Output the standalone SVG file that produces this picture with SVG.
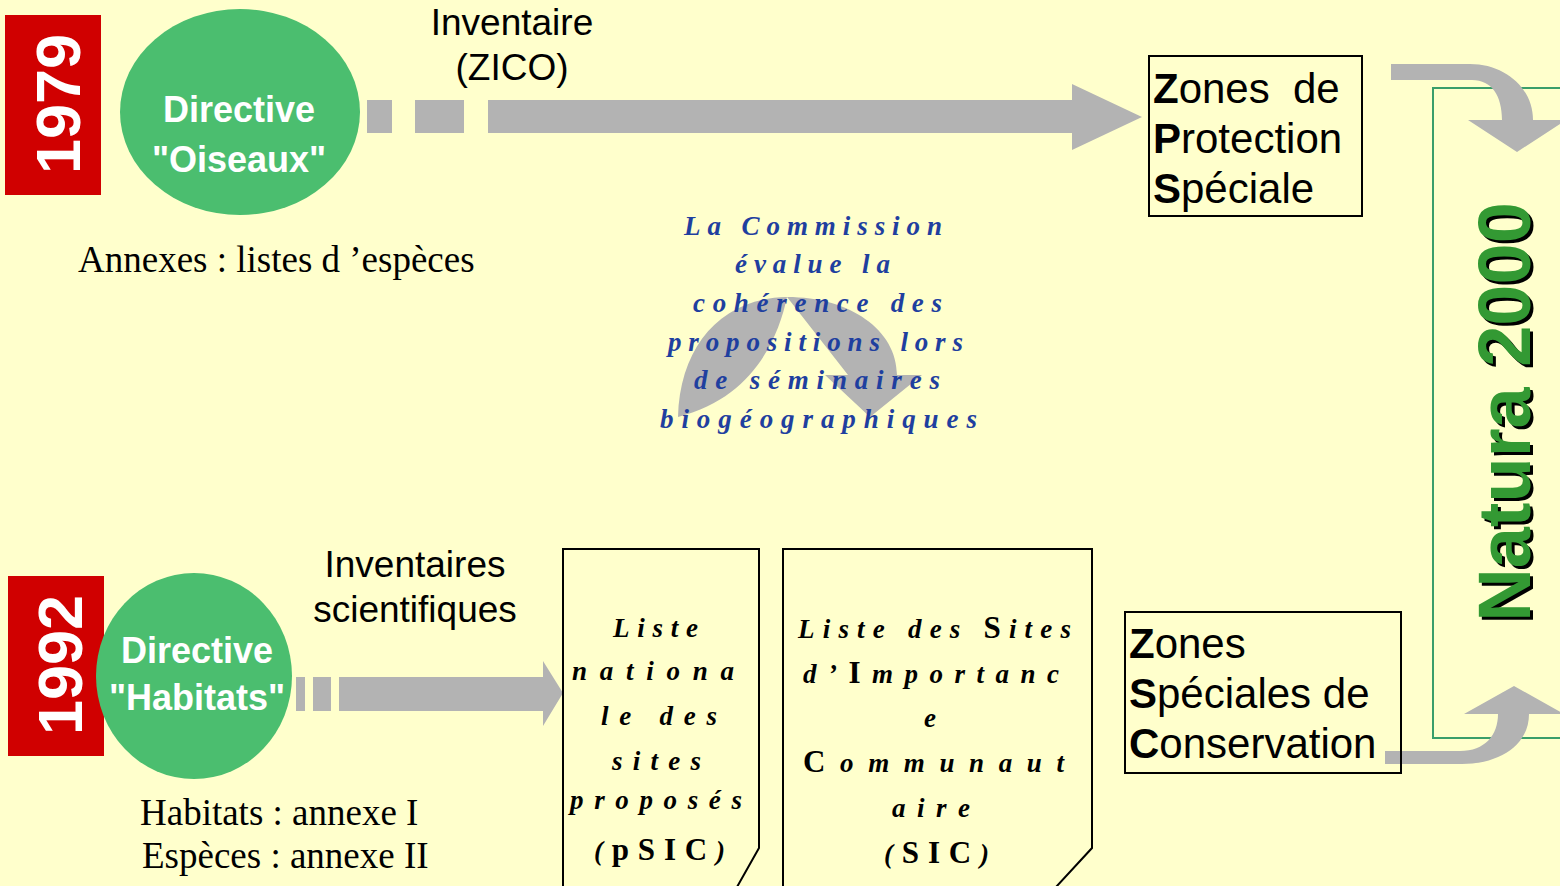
<svg xmlns="http://www.w3.org/2000/svg" width="1560" height="886" viewBox="0 0 1560 886">
<style>
.sans{font-family:"Liberation Sans",Arial,sans-serif}
.year{font-family:"Liberation Sans",Arial,sans-serif;font-weight:bold;font-size:63px;fill:#fff;text-anchor:middle}
.dir{font-family:"Liberation Sans",Arial,sans-serif;font-weight:bold;font-size:36px;fill:#fff;text-anchor:middle}
.lbl{font-family:"Liberation Sans",Arial,sans-serif;font-size:37px;fill:#000;text-anchor:middle}
.tnr{font-family:"Liberation Serif","Times New Roman",serif;font-size:37px;fill:#000}
.zone{font-family:"Liberation Sans",Arial,sans-serif;font-size:42px;fill:#000}
.script{font-family:"Liberation Serif","DejaVu Serif",serif;font-style:italic;font-weight:bold;font-size:27px}
.cap{font-style:normal;font-weight:bold;font-size:31px}
.blue{fill:#1F3F9F}
.arrow{fill:#B3B3B3}
.box{fill:#FFFFCC;stroke:#000;stroke-width:2}
.frame{fill:none;stroke:#000;stroke-width:2}
.red{fill:#D00000}
.ell{fill:#4BBE6F}
</style>
<rect x="0" y="0" width="1560" height="886" fill="#FFFFCC"/>

<rect id="natura-frame" x="1433" y="88" width="140" height="650" fill="none" stroke="#3A9E6A" stroke-width="2"/>

<g id="connectors">
  <rect class="arrow" x="367" y="100" width="25" height="33"/>
  <rect class="arrow" x="415" y="100" width="49" height="33"/>
  <path class="arrow" d="M488,100 H1072 V84 L1142,117 L1072,150 V133 H488 Z"/>
  <rect class="arrow" x="296" y="677" width="9" height="34"/>
  <rect class="arrow" x="313" y="677" width="18" height="34"/>
  <path class="arrow" d="M339,677 H543 V661 L563,693 L543,726 V711 H339 Z"/>
  <path class="arrow" d="M1391,64 H1470 C1505,64 1533,88 1533,120 H1566 L1517,152 L1468,120 H1502 C1502,96 1492,80 1472,80 H1391 Z"/>
  <path class="arrow" d="M1385,751 H1460 C1485,751 1498,735 1498,714 H1464 L1514,686 L1564,714 H1529 C1529,745 1500,764 1462,764 H1385 Z"/>
  <path class="arrow" d="M678,417 C680,345 722,298 787,297 C850,297 897,330 897,375 H922 L870,417 L825,375 H848 L787,297 C778,340 752,398 678,417 Z"/>
</g>

<g id="year-1979">
  <rect class="red" x="5" y="15" width="96" height="180"/>
  <text class="year" transform="translate(80,104) rotate(-90)">1979</text>
</g>

<g id="directive-oiseaux">
  <ellipse class="ell" cx="240" cy="112" rx="120" ry="103"/>
  <text class="dir" x="239" y="122">Directive</text>
  <text class="dir" x="239" y="172">"Oiseaux"</text>
</g>

<g id="label-zico">
  <text class="lbl" x="512" y="35">Inventaire</text>
  <text class="lbl" x="512" y="80">(ZICO)</text>
</g>

<g id="annexes-oiseaux">
  <text class="tnr" x="78" y="272">Annexes : listes d ’espèces</text>
</g>

<g id="zps">
  <rect class="box" x="1149" y="56" width="213" height="160"/>
  <text class="zone" x="1153" y="103"><tspan font-weight="bold">Z</tspan>ones</text>
  <text class="zone" x="1293" y="103">de</text>
  <text class="zone" x="1153" y="153"><tspan font-weight="bold">P</tspan>rotection</text>
  <text class="zone" x="1153" y="203"><tspan font-weight="bold">S</tspan>péciale</text>
</g>

<g id="commission">
  <text class="script blue" x="684" y="235" textLength="258" lengthAdjust="spacing">La Commission</text>
  <text class="script blue" x="735" y="273" textLength="155" lengthAdjust="spacing">évalue la</text>
  <text class="script blue" x="693" y="312" textLength="249" lengthAdjust="spacing">cohérence des</text>
  <text class="script blue" x="668" y="351" textLength="295" lengthAdjust="spacing">propositions lors</text>
  <text class="script blue" x="694" y="389" textLength="246" lengthAdjust="spacing">de séminaires</text>
  <text class="script blue" x="660" y="428" textLength="317" lengthAdjust="spacing">biogéographiques</text>
</g>

<g id="year-1992">
  <rect class="red" x="8" y="576" width="96" height="180"/>
  <text class="year" transform="translate(82,665) rotate(-90)">1992</text>
</g>

<g id="directive-habitats">
  <ellipse class="ell" cx="194" cy="676" rx="98" ry="103"/>
  <text class="dir" x="197" y="663">Directive</text>
  <text class="dir" x="197" y="710">"Habitats"</text>
</g>

<g id="label-inventaires">
  <text class="lbl" x="415" y="577">Inventaires</text>
  <text class="lbl" x="415" y="622">scientifiques</text>
</g>

<g id="annexes-habitats">
  <text class="tnr" x="140" y="825">Habitats : annexe I</text>
  <text class="tnr" x="142" y="868">Espèces : annexe II</text>
</g>

<g id="psic">
  <path class="box" d="M563,549 H759 V848 L737,887 H563 Z"/>
  <text class="script" x="613" y="637" textLength="85" lengthAdjust="spacing">Liste</text>
  <text class="script" x="572" y="680" textLength="162" lengthAdjust="spacing">nationa</text>
  <text class="script" x="601" y="725" textLength="116" lengthAdjust="spacing">le des</text>
  <text class="script" x="612" y="770" textLength="89" lengthAdjust="spacing">sites</text>
  <text class="script" x="570" y="809" textLength="172" lengthAdjust="spacing">proposés</text>
  <text class="script" x="594" y="860" textLength="131" lengthAdjust="spacing">(<tspan class="cap" font-size="40">pSIC</tspan>)</text>
</g>

<g id="sic">
  <path class="box" d="M783,549 H1092 V848 L1056,887 H783 Z"/>
  <text class="script" x="798" y="638" textLength="273" lengthAdjust="spacing">Liste des <tspan class="cap">S</tspan>ites</text>
  <text class="script" x="803" y="683" textLength="256" lengthAdjust="spacing">d’<tspan class="cap" font-size="36">I</tspan>mportanc</text>
  <text class="script" x="930" y="727" text-anchor="middle">e</text>
  <text class="script" x="803" y="772" textLength="261" lengthAdjust="spacing"><tspan class="cap" font-size="36">C</tspan>ommunaut</text>
  <text class="script" x="892" y="817" textLength="78" lengthAdjust="spacing">aire</text>
  <text class="script" x="884" y="863" textLength="105" lengthAdjust="spacing">(<tspan class="cap" font-size="40">SIC</tspan>)</text>
</g>

<g id="zsc">
  <rect class="frame" x="1125" y="612" width="276" height="161"/>
  <text class="zone" x="1129" y="658"><tspan font-weight="bold">Z</tspan>ones</text>
  <text class="zone" x="1129" y="708"><tspan font-weight="bold">S</tspan>péciales de</text>
  <text class="zone" x="1129" y="758"><tspan font-weight="bold">C</tspan>onservation</text>
</g>

<g id="natura-2000">
  <text class="sans" transform="translate(1533,415) rotate(-90)" text-anchor="middle" font-weight="bold" font-size="74" fill="#000">Natura 2000</text>
  <text class="sans" transform="translate(1530,412) rotate(-90)" text-anchor="middle" font-weight="bold" font-size="74" fill="#339933">Natura 2000</text>
</g>
</svg>
